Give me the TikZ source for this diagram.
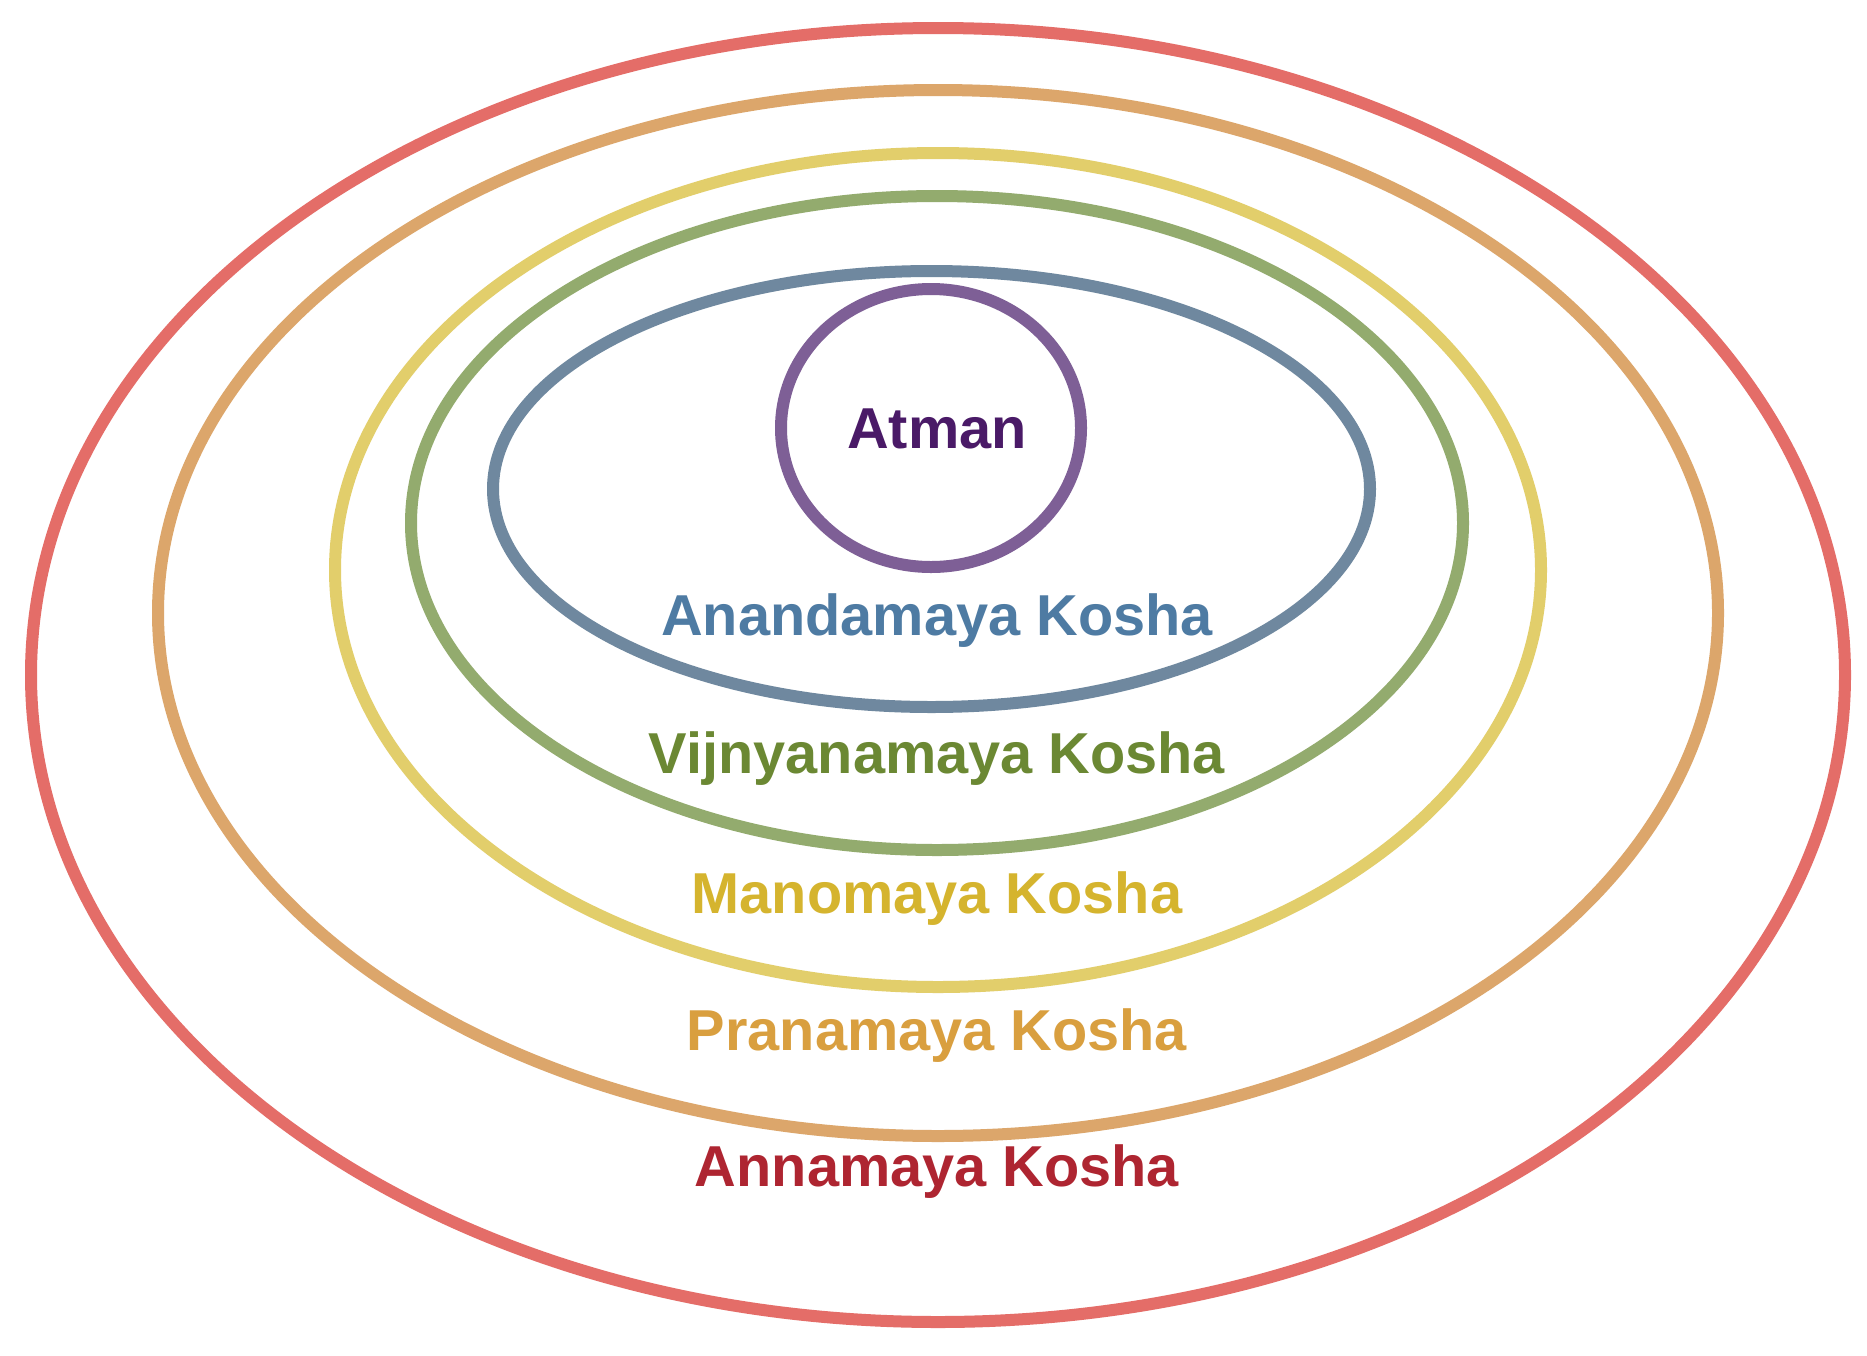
\documentclass[tikz,border=0pt]{standalone}
\usepackage{fontspec}
\setmainfont{Liberation Sans}
\definecolor{cRed}{HTML}{E46D68}
\definecolor{cOrange}{HTML}{DCA66B}
\definecolor{cYellow}{HTML}{E2CE6B}
\definecolor{cGreen}{HTML}{93AB6E}
\definecolor{cBlue}{HTML}{6F889F}
\definecolor{cPurple}{HTML}{7E5F96}
\definecolor{tAtman}{HTML}{4A1A67}
\definecolor{tAnanda}{HTML}{4E7BA3}
\definecolor{tVijn}{HTML}{6B8833}
\definecolor{tMano}{HTML}{D5B42E}
\definecolor{tPrana}{HTML}{D99F3F}
\definecolor{tAnna}{HTML}{AE2531}
\tikzset{
  ring/.style={line width=6pt},
  lbl/.style={anchor=base, inner sep=0pt, font=\fontsize{28.85}{32}\selectfont\bfseries}
}
\begin{document}
\begin{tikzpicture}[x=0.5pt,y=-0.5pt]
\useasboundingbox (0,0) rectangle (1867,1355);
\fill[white] (0,0) rectangle (1867,1355);
\draw[ring,cRed] (938,675) ellipse [x radius=907, y radius=647];
\draw[ring,cOrange] (938,613) ellipse [x radius=780, y radius=523];
\draw[ring,cYellow] (938,570) ellipse [x radius=603, y radius=417];
\draw[ring,cGreen] (937,523) ellipse [x radius=526, y radius=327];
\draw[ring,cBlue] (931.5,489) ellipse [x radius=438.5, y radius=218];
\draw[ring,cPurple] (931,428) ellipse [x radius=150, y radius=139];
\node[lbl,text=tAtman] (atman) at (937,448) {Atman};
\node[lbl,text=tAnanda] (ananda) at (937,635) {Anandamaya Kosha};
\node[lbl,text=tVijn] (vijn) at (937,773) {Vijnyanamaya Kosha};
\node[lbl,text=tMano] (mano) at (937,913) {Manomaya Kosha};
\node[lbl,text=tPrana] (prana) at (937,1050) {Pranamaya Kosha};
\node[lbl,text=tAnna] (anna) at (937,1186) {Annamaya Kosha};
\end{tikzpicture}
\end{document}
